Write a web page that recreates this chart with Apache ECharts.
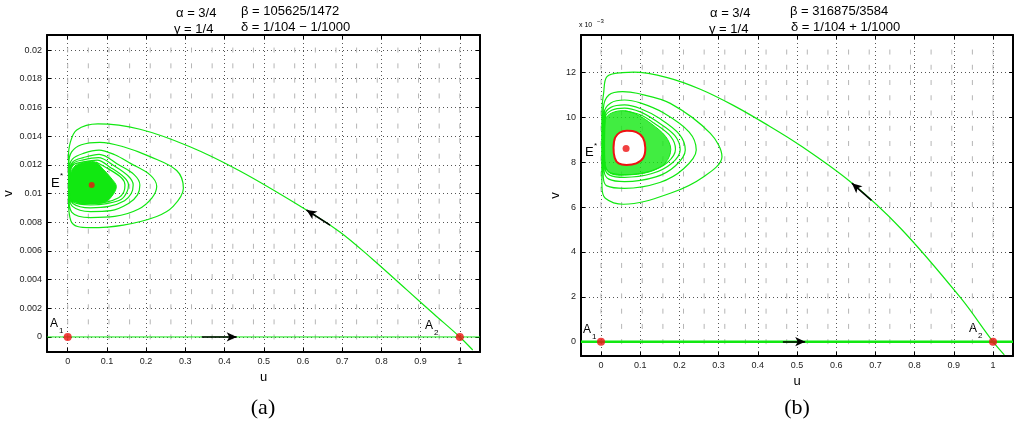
<!DOCTYPE html>
<html>
<head>
<meta charset="utf-8">
<script src="https://cdn.jsdelivr.net/npm/echarts@6/dist/echarts.min.js"></script>
<style>
  html, body { margin: 0; padding: 0; background: #fff; }
  #chart { width: 1015px; height: 425px; }
</style>
</head>
<body>
<div id="chart"></div>
<script>
// direction field sample positions
var fieldU = [0, 0.0526, 0.1053, 0.1579, 0.2105, 0.2632, 0.3158, 0.3684, 0.4211, 0.4737,
              0.5263, 0.5789, 0.6316, 0.6842, 0.7368, 0.7895, 0.8421, 0.8947, 0.9474, 1];
var fieldVa = [0, 0.00105, 0.0021, 0.00316, 0.00421, 0.00526, 0.00632, 0.00737, 0.00842, 0.00947,
               0.0105, 0.0116, 0.0126, 0.0137, 0.0147, 0.0158, 0.0168, 0.0179, 0.0189, 0.02];
// panel (b) v values are in units of 10^-3
var fieldVb = [0, 0.68, 1.36, 2.04, 2.72, 3.4, 4.08, 4.76, 5.44, 6.12,
               6.8, 7.48, 8.16, 8.84, 9.52, 10.2, 10.88, 11.56, 12.24, 12.92];

// panel (a): trajectory from A2 spiralling into E*
var orbitA = [
  [1.033, -0.00091], [1.0, 0], [0.9337, 0.0016], [0.8649, 0.00328], [0.7782, 0.0054], [0.6941, 0.00732],
  [0.5922, 0.00913], [0.4392, 0.01157], [0.3118, 0.01326], [0.1843, 0.01448], [0.0772, 0.01485],
  [0.023, 0.01443], [0.006, 0.0135], [0.002, 0.0125], [0.002, 0.0095], [0.008, 0.0081], [0.025, 0.0077],
  [0.057, 0.00762], [0.142, 0.0078], [0.227, 0.0084], [0.269, 0.0091], [0.295, 0.01036], [0.278, 0.0116],
  [0.21, 0.01257], [0.142, 0.01326], [0.082, 0.01357],
  [0.035, 0.0134], [0.01, 0.0129], [0.003, 0.0121], [0.003, 0.0098], [0.01, 0.0087], [0.058, 0.00832],
  [0.12, 0.0084], [0.18, 0.0089], [0.215, 0.0097], [0.227, 0.0105], [0.21, 0.0113], [0.16, 0.0121],
  [0.12, 0.0127], [0.08, 0.01303],
  [0.04, 0.0128], [0.012, 0.0124], [0.004, 0.0117], [0.004, 0.01], [0.012, 0.0091], [0.058, 0.00874],
  [0.11, 0.0088], [0.155, 0.0093], [0.178, 0.0099], [0.184, 0.0106], [0.17, 0.0113], [0.13, 0.012], [0.08, 0.01273],
  [0.04, 0.0125], [0.013, 0.0122], [0.005, 0.0115], [0.005, 0.0101], [0.013, 0.0093], [0.058, 0.009],
  [0.105, 0.0091], [0.145, 0.0095], [0.162, 0.01], [0.167, 0.0106], [0.155, 0.0112], [0.12, 0.0119], [0.078, 0.0125],
  [0.04, 0.01235], [0.014, 0.0121], [0.006, 0.0114], [0.006, 0.0102], [0.014, 0.0094], [0.058, 0.0092],
  [0.1, 0.0093], [0.137, 0.0096], [0.151, 0.0101], [0.155, 0.0106], [0.145, 0.0111], [0.11, 0.0118], [0.075, 0.01233],
  [0.04, 0.0122], [0.015, 0.012], [0.007, 0.0114], [0.007, 0.0102], [0.015, 0.0095], [0.058, 0.0093],
  [0.098, 0.0094], [0.13, 0.0097], [0.143, 0.0101], [0.146, 0.0106], [0.137, 0.0111], [0.105, 0.0117], [0.072, 0.0122]
];
// densely wound core around E*
var coreA = [
  [0.07, 0.0122], [0.03, 0.0121], [0.012, 0.0117], [0.006, 0.011], [0.006, 0.01], [0.013, 0.0095],
  [0.06, 0.0093], [0.095, 0.0094], [0.115, 0.0099], [0.124, 0.0105], [0.113, 0.011], [0.09, 0.0117]
];
var pointsA = [[0, 0], [1, 0]];
var centreA = [[0.0612, 0.0106]];
var arrowsA = [[[0.342, 0], [0.431, 0]], [[0.669, 0.0078], [0.609, 0.00885]]];

// panel (b): trajectory from A2 winding onto the limit cycle (v in 10^-3)
var orbitB = [
  [1.0288, -0.59], [1.0, 0], [0.9166, 1.97], [0.7635, 5.07], [0.636, 7.13], [0.5084, 8.75],
  [0.4242, 9.67], [0.3375, 10.54], [0.2533, 11.26], [0.1691, 11.78], [0.0832, 12.02], [0.055, 12.0],
  [0.0153, 11.82], [0.0067, 11.08], [0.0025, 10.33], [0.002, 8.6], [0.0025, 6.91], [0.011, 6.4],
  [0.0577, 6.13], [0.1768, 6.62], [0.262, 7.36], [0.3086, 8.25], [0.279, 9.29], [0.1768, 10.63],
  [0.0918, 11.08], [0.055, 11.15],
  [0.02, 11.0], [0.006, 10.4], [0.004, 8.6], [0.006, 7.3], [0.015, 6.95], [0.06, 6.84], [0.15, 7.1],
  [0.21, 7.7], [0.243, 8.55], [0.225, 9.35], [0.16, 10.2], [0.1, 10.65], [0.06, 10.78],
  [0.025, 10.65], [0.008, 10.2], [0.006, 8.6], [0.008, 7.6], [0.02, 7.25], [0.06, 7.14], [0.14, 7.35],
  [0.19, 7.85], [0.215, 8.55], [0.2, 9.25], [0.15, 9.95], [0.1, 10.4], [0.06, 10.56],
  [0.025, 10.45], [0.01, 10.1], [0.008, 8.6], [0.01, 7.75], [0.022, 7.43], [0.06, 7.33], [0.13, 7.5],
  [0.18, 7.95], [0.202, 8.55], [0.188, 9.2], [0.14, 9.85], [0.1, 10.25], [0.06, 10.42],
  [0.027, 10.32], [0.011, 10.0], [0.009, 8.6], [0.011, 7.85], [0.024, 7.53], [0.06, 7.45], [0.125, 7.6],
  [0.17, 8.0], [0.19, 8.58], [0.178, 9.15], [0.135, 9.75], [0.1, 10.12], [0.06, 10.3]
];
var bandB = [
  [0.06, 10.3], [0.027, 10.2], [0.011, 9.9], [0.009, 8.6], [0.011, 7.85], [0.025, 7.5], [0.06, 7.43],
  [0.125, 7.58], [0.165, 8.0], [0.178, 8.58], [0.165, 9.15], [0.13, 9.7], [0.095, 10.1]
];
var cycleB = [
  [0.065, 9.41], [0.09, 9.35], [0.107, 9.1], [0.113, 8.65], [0.108, 8.2], [0.09, 7.95], [0.065, 7.88],
  [0.045, 7.95], [0.035, 8.2], [0.032, 8.65], [0.036, 9.1], [0.048, 9.33]
];
var pointsB = [[0, 0], [1, 0]];
var centreB = [[0.064, 8.62]];
var arrowsB = [[[0.464, 0], [0.521, 0]], [[0.69, 6.3], [0.64, 7.07]]];

var green = '#11e811';
var red = '#ee1111';
var sans = 'Liberation Sans, Arial, sans-serif';

function makeX(grid, position, min, max, main, gap) {
  return {
    type: 'value', gridIndex: grid, position: position, min: min, max: max, splitNumber: 11,
    axisLine: { show: true, onZero: false, lineStyle: { color: '#000', width: 2 } },
    axisTick: { show: true, inside: true, length: 4, lineStyle: { color: '#000' } },
    axisLabel: { show: main, showMinLabel: false, showMaxLabel: false, color: '#222', fontSize: 9, fontFamily: sans, margin: 5 },
    splitLine: { show: main, lineStyle: { color: '#555', type: [1, 3], width: 1 } },
    name: main ? 'u' : '', nameLocation: 'middle', nameGap: gap,
    nameTextStyle: { color: '#000', fontSize: 13, fontFamily: sans }
  };
}
function makeY(grid, position, min, max, split, main, gap) {
  return {
    type: 'value', gridIndex: grid, position: position, min: min, max: max, splitNumber: split,
    axisLine: { show: true, onZero: false, lineStyle: { color: '#000', width: 2 } },
    axisTick: { show: true, inside: true, length: 4, lineStyle: { color: '#000' } },
    axisLabel: { show: main, showMinLabel: false, showMaxLabel: false, color: '#222', fontSize: 9, fontFamily: sans, margin: 5 },
    splitLine: { show: main, lineStyle: { color: '#555', type: [1, 3], width: 1 } },
    name: main ? 'v' : '', nameLocation: 'middle', nameGap: gap,
    nameTextStyle: { color: '#000', fontSize: 13, fontFamily: sans }
  };
}

function fieldSeries(xi, yi, us, vs) {
  var data = [];
  us.forEach(function (u) { vs.forEach(function (v) { data.push([u, v]); }); });
  return {
    type: 'custom', xAxisIndex: xi, yAxisIndex: yi, silent: true, z: 1, data: data,
    renderItem: function (params, api) {
      var c = api.coord([api.value(0), api.value(1)]);
      return { type: 'line', shape: { x1: c[0], y1: c[1] - 2.5, x2: c[0], y2: c[1] + 2.5 },
               style: { stroke: '#b6b6b6', lineWidth: 1 } };
    }
  };
}
function polySeries(xi, yi, pts, fill, stroke, lw, z) {
  return {
    type: 'custom', xAxisIndex: xi, yAxisIndex: yi, silent: true, z: z, data: [[0, 0]],
    renderItem: function (params, api) {
      return { type: 'polygon',
               shape: { points: pts.map(function (p) { return api.coord(p); }), smooth: 0.35 },
               style: { fill: fill, stroke: stroke, lineWidth: lw } };
    }
  };
}
function lineSeries(xi, yi, data, width, z, arrows) {
  var s = {
    type: 'line', xAxisIndex: xi, yAxisIndex: yi, data: data, symbol: 'none', smooth: 0.35,
    lineStyle: { color: green, width: width }, silent: true, z: z, animation: false
  };
  if (arrows) {
    s.markLine = {
      silent: true, symbol: ['none', 'arrow'], symbolSize: [7, 10], label: { show: false },
      lineStyle: { color: '#000', width: 1.5, type: 'solid' },
      data: arrows.map(function (a) { return [{ coord: a[0] }, { coord: a[1] }]; }),
      animation: false
    };
  }
  return s;
}
function dotSeries(xi, yi, data, size) {
  return { type: 'scatter', xAxisIndex: xi, yAxisIndex: yi, data: data, symbolSize: size,
           itemStyle: { color: red }, silent: true, z: 10 };
}

function txt(x, y, s, size, align, family) {
  return { type: 'text', x: x, y: y, silent: true,
           style: { text: s, fontSize: size, fontFamily: family || sans, fill: '#000',
                    textAlign: align || 'left', textVerticalAlign: 'middle' } };
}

var chart = echarts.init(document.getElementById('chart'));
chart.setOption({
  animation: false,
  grid: [
    { left: 47, top: 35, width: 433, height: 317 },
    { left: 581, top: 35, width: 432, height: 321 }
  ],
  xAxis: [
    makeX(0, 'bottom', -0.0528, 1.0515, true, 16),
    makeX(0, 'top', -0.0528, 1.0515, false, 0),
    makeX(1, 'bottom', -0.051, 1.051, true, 14),
    makeX(1, 'top', -0.051, 1.051, false, 0)
  ],
  yAxis: [
    makeY(0, 'left', -0.00105, 0.02105, 11, true, 32),
    makeY(0, 'right', -0.00105, 0.02105, 11, false, 0),
    makeY(1, 'left', -0.64, 13.68, 7, true, 19),
    makeY(1, 'right', -0.64, 13.68, 7, false, 0)
  ],
  series: [
    fieldSeries(0, 0, fieldU, fieldVa),
    lineSeries(0, 0, [[-0.0528, 0], [1.0515, 0]], 1, 3, arrowsA),
    lineSeries(0, 0, orbitA, 1.2, 4),
    polySeries(0, 0, coreA, green, green, 1, 5),
    dotSeries(0, 0, pointsA, 8),
    dotSeries(0, 0, centreA, 6),

    fieldSeries(2, 2, fieldU, fieldVb),
    lineSeries(2, 2, [[-0.051, 0], [1.051, 0]], 2.5, 3, arrowsB),
    lineSeries(2, 2, orbitB, 1.2, 4),
    polySeries(2, 2, bandB, 'rgba(17,232,17,0.8)', green, 1, 5),
    polySeries(2, 2, cycleB, '#fff', red, 2, 6),
    dotSeries(2, 2, pointsB, 8),
    dotSeries(2, 2, centreB, 7)
  ],
  graphic: [
    txt(176, 13, 'α = 3/4', 13), txt(241, 11, 'β = 105625/1472', 13),
    txt(174, 29, 'γ = 1/4', 13), txt(241, 27, 'δ = 1/104 − 1/1000', 13),
    txt(710, 13, 'α = 3/4', 13), txt(790, 11, 'β = 316875/3584', 13),
    txt(709, 29, 'γ = 1/4', 13), txt(791, 27, 'δ = 1/104 + 1/1000', 13),
    txt(579, 25, 'x 10', 7), txt(597, 21, '−3', 6),
    txt(50, 324, 'A', 12), txt(59, 331, '1', 8),
    txt(425, 326, 'A', 12), txt(434, 333, '2', 8),
    txt(51, 183, 'E', 13), txt(60, 176, '*', 8),
    txt(583, 330, 'A', 12), txt(592, 337, '1', 8),
    txt(969, 329, 'A', 12), txt(978, 336, '2', 8),
    txt(585, 152, 'E', 13), txt(594, 146, '*', 8),
    txt(263, 408, '(a)', 22, 'center', 'Liberation Serif, Times New Roman, serif'),
    txt(797, 408, '(b)', 22, 'center', 'Liberation Serif, Times New Roman, serif')
  ]
});
</script>
</body>
</html>
